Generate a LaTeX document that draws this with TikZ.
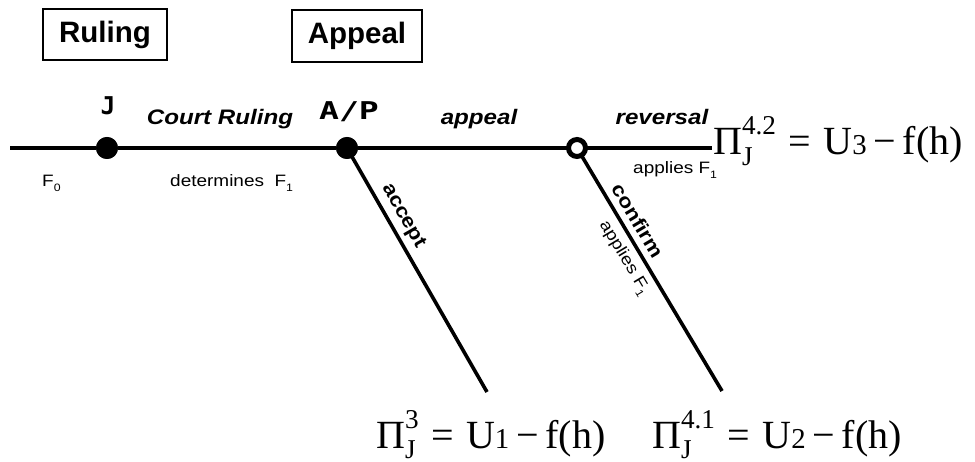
\documentclass[tikz,border=0pt]{standalone}
\usepackage{fontspec}
\usepackage{graphicx}
\setmainfont{Liberation Serif}
\newfontfamily\arialfont{Liberation Sans}
\newfontfamily\arialwide{Liberation Sans}[FakeStretch=1.15]
\newfontfamily\monofont{DejaVu Sans Mono}
\newcommand\lowsub[1]{\raisebox{-0.28em}{\scalebox{0.65}{#1}}}
\newcommand\supsub[2]{%
  \setbox0\hbox{\scalebox{0.68}{#1}}\setbox2\hbox{\scalebox{0.68}{#2}}%
  \dimen0=\ifdim\wd0>\wd2 \wd0\else\wd2\fi
  \makebox[\dimen0][l]{\rlap{\raisebox{0.5em}{\box0}}\raisebox{-0.26em}{\box2}}}
\newcommand\payoffformula[2]{Π\supsub{#1}{J}\hspace{0.32em}=\hspace{0.3em}U\scalebox{0.72}{#2}\hspace{0.17em}−\hspace{0.17em}f(h)}
\tikzset{
  mainline/.style={line width=4pt},
  branchline/.style={line width=3.6pt},
  fulldot/.style={circle, fill=black, inner sep=0pt, minimum size=22pt},
  opendot/.style={circle, draw=black, fill=white, line width=5pt, inner sep=0pt, minimum size=17pt},
  titlebox/.style={draw=black, line width=1.3pt, inner sep=0pt, font=\arialfont\bfseries\fontsize{29.5}{32}\selectfont},
  movelabel/.style={font=\arialwide\bfseries\itshape\fontsize{21}{24}\selectfont, anchor=base, inner sep=0pt},
  branchlabel/.style={font=\arialwide\bfseries\fontsize{19.5}{22}\selectfont, inner sep=0pt},
  smalllabel/.style={font=\arialwide\fontsize{16.5}{19}\selectfont, inner sep=0pt},
  playerlabel/.style={font=\monofont\bfseries\fontsize{24.5}{27}\selectfont, anchor=base, inner sep=0pt},
  payoff/.style={font=\fontsize{40}{44}\selectfont, anchor=base west, inner sep=0pt},
}
\begin{document}
\begin{tikzpicture}[x=1pt,y=-1pt]
\useasboundingbox (0,0) rectangle (975,462);
% title boxes
\node[titlebox, minimum width=124pt, minimum height=51pt] (ruling) at (105,34.5) {Ruling};
\node[titlebox, minimum width=130pt, minimum height=52pt] (appealbox) at (357,36) {Appeal};
% nodes
\coordinate (start) at (10,148);
\coordinate (finish) at (712,148);
\coordinate (e1) at (487,392);
\coordinate (e2) at (722,391);
\node[fulldot] (J) at (107,148) {};
\node[fulldot] (AP) at (347,148) {};
% lines
\draw[mainline] (start) -- (J) -- (AP) -- (finish);
\draw[branchline] (AP.center) -- node[pos=0.31, sloped, above=5pt, branchlabel] {accept} (e1);
\draw[branchline] (577,148) -- node[pos=0.33, sloped, above=6pt, branchlabel] {confirm}
   node[pos=0.42, sloped, below=6pt, smalllabel] {applies F\lowsub{1}} (e2);
\node[opendot] (R) at (577,148) {};
\node[fulldot] at (J) {};
\node[fulldot] at (AP) {};
% player labels
\node[playerlabel] (Jlab) at (108,115) {J};
\node[playerlabel] (APlab) at (349,120) {\scalebox{1.35}[1]{A/P}};
% move labels
\node[movelabel] (court) at (220,125) {Court Ruling};
\node[movelabel] (appeal) at (479,125) {appeal};
\node[movelabel] (reversal) at (662,125) {reversal};
% small labels
\node[smalllabel, anchor=base west] (f0) at (42,187) {F\lowsub{0}};
\node[smalllabel, anchor=base west] (det) at (170,187) {determines~ F\lowsub{1}};
\node[smalllabel, anchor=base west] (app) at (633,174) {applies F\lowsub{1}};
% payoffs
\node[payoff] (p42) at (713,155) {\payoffformula{4.2}{3}};
\node[payoff] (p3) at (376,448) {\payoffformula{3}{1}};
\node[payoff] (p41) at (652,448) {\payoffformula{4.1}{2}};
\end{tikzpicture}
\end{document}
